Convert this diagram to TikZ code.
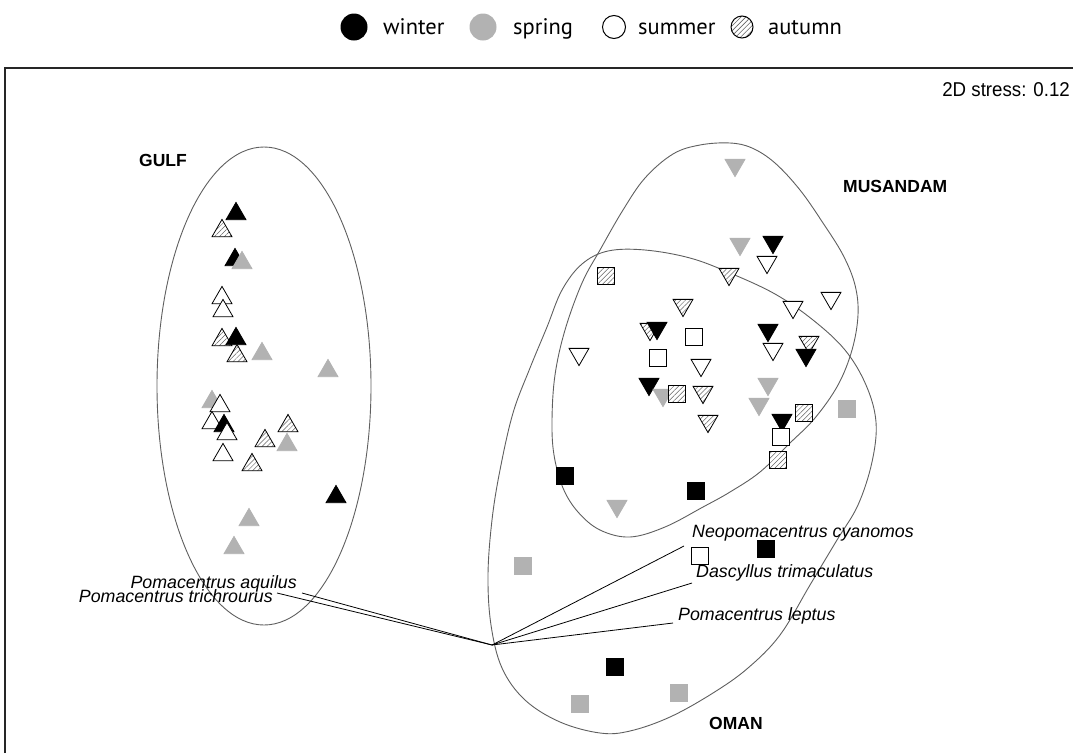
\documentclass[tikz,border=0pt]{standalone}
\usepackage{fontspec}
\setmainfont{Liberation Sans}
\newfontfamily\legfont{PT Sans}
\usetikzlibrary{shapes.geometric,patterns.meta}
\definecolor{grayc}{RGB}{178,178,178}
\definecolor{hatchc}{RGB}{100,100,100}
\definecolor{curvec}{RGB}{95,95,95}
\begin{document}
\begin{tikzpicture}[x=1pt,y=1pt,
  mk/.style={inner sep=0pt,outer sep=0pt,draw=black,line width=0.8pt},
  upT/.style={mk,regular polygon,regular polygon sides=3,minimum size=23pt,yshift=-2.9pt},
  dnT/.style={mk,regular polygon,regular polygon sides=3,shape border rotate=180,minimum size=23pt,yshift=2.9pt},
  sq/.style={mk,rectangle,minimum size=17pt},
  W/.style={fill=white},
  B/.style={fill=black},
  G/.style={fill=grayc,draw=grayc},
  H/.style={preaction={fill=white},pattern={Lines[angle=45,distance=3.5pt,line width=0.5pt]},pattern color=hatchc},
  curve/.style={draw=curvec,line width=0.9pt},
  vec/.style={draw=black,line width=0.8pt},
  sp/.style={inner sep=0pt,font=\fontsize{17.8}{20}\selectfont\itshape},
  reg/.style={inner sep=0pt,anchor=base west,font=\fontsize{17.5}{20}\selectfont\bfseries},
  leg/.style={inner sep=0pt,anchor=base west,font=\legfont\fontsize{22.5}{26}\selectfont},
  legc/.style={circle,inner sep=0pt,outer sep=0pt,line width=1pt},
]
\useasboundingbox (0,0) rectangle (1073,-753);
% frame
\draw[line width=1.3pt,draw=black!85] (5,-753) -- (5,-68) -- (1073,-68);
% legend
\node[legc,fill=black,minimum size=27pt] (lc1) at (354,-27) {};
\node[leg] (lt1) at (383,-34) {winter};
\node[legc,fill=grayc,minimum size=27pt] (lc2) at (483,-27) {};
\node[leg] (lt2) at (513,-34) {spring};
\node[legc,draw=black,fill=white,minimum size=23pt] (lc3) at (614,-27) {};
\node[leg] (lt3) at (638,-34) {summer};
\node[legc,draw=black,preaction={fill=white},pattern={Lines[angle=45,distance=3.5pt,line width=0.6pt]},pattern color=hatchc,minimum size=22pt] (lc4) at (742,-27) {};
\node[leg] (lt4) at (768,-34) {autumn};
% stress
\node[inner sep=0pt,anchor=base east,font=\fontsize{20}{22}\selectfont] (stress) at (1070,-96) {\scalebox{0.935}[1]{2D stress: 0.12}};
% region outlines
\draw[curve] (264,-386) ellipse [x radius=107pt, y radius=239pt];
\draw[curve] plot[smooth cycle,tension=0.6] coordinates {
 (730,-143) (752,-148) (775,-163) (800,-190) (823,-223) (843,-255) (855,-285) (858,-315)
 (852,-350) (838,-385) (815,-418) (790,-443) (760,-472) (730,-492) (703,-507) (665,-527)
 (630,-537) (600,-530) (578,-512) (563,-488) (554,-455) (552,-420) (555,-375) (565,-330)
 (582,-283) (600,-250) (623,-210) (645,-178) (673,-154) (700,-145)};
\draw[curve] plot[smooth cycle,tension=0.6] coordinates {
 (562,-290) (582,-264) (608,-251) (645,-250) (690,-258) (730,-273) (775,-294)
 (813,-320) (845,-350) (866,-385) (876,-422) (872,-462) (858,-505) (837,-540) (810,-585)
 (780,-635) (748,-668) (713,-693) (670,-717) (630,-731) (600,-733) (560,-722) (525,-700)
 (502,-668) (491,-625) (488,-575) (492,-520) (500,-470) (513,-413) (530,-368) (547,-327)};
% region labels
\node[reg] (gulf) at (139,-166) {GULF};
\node[reg] (musa) at (843,-192) {MUSANDAM};
\node[reg] (oman) at (709,-729) {OMAN};
% vectors
\coordinate (vo) at (492,-645);
\coordinate (v1) at (684,-546);
\coordinate (v2) at (692,-583);
\coordinate (v3) at (673,-623);
\coordinate (v4) at (302,-593);
\coordinate (v5) at (277,-593);
\draw[vec] (vo) -- (v1);
\draw[vec] (vo) -- (v2);
\draw[vec] (vo) -- (v3);
\draw[vec] (vo) -- (v4);
\draw[vec] (vo) -- (v5);
\node[sp,anchor=base west] (s1) at (692,-537) {Neopomacentrus cyanomos};
\node[sp,anchor=base west] (s2) at (696,-577) {Dascyllus trimaculatus};
\node[sp,anchor=base west] (s3) at (678,-620) {Pomacentrus leptus};
\node[sp,anchor=base east] (s4) at (297,-588) {Pomacentrus aquilus};
\node[sp,anchor=base east] (s5) at (273,-602) {Pomacentrus trichrourus};
% GULF markers
\node[upT,B] (g1) at (236,-211) {};
\node[upT,H] (g2) at (222,-228) {};
\node[upT,B] (g3) at (235,-257) {};
\node[upT,G] (g4) at (242,-260) {};
\node[upT,W] (g5) at (222,-295) {};
\node[upT,W] (g6) at (223,-308) {};
\node[upT,H] (g7) at (222,-337) {};
\node[upT,B] (g8) at (236,-336) {};
\node[upT,H] (g9) at (237,-353) {};
\node[upT,G] (g10) at (262,-351) {};
\node[upT,G] (g11) at (328,-368) {};
\node[upT,G] (g12) at (212,-399) {};
\node[upT,W] (g13) at (220,-403) {};
\node[upT,W] (g14) at (212,-420) {};
\node[upT,B] (g15) at (224,-423) {};
\node[upT,W] (g16) at (227,-431) {};
\node[upT,W] (g17) at (223,-452) {};
\node[upT,H] (g18) at (265,-438) {};
\node[upT,G] (g19) at (287,-442) {};
\node[upT,H] (g20) at (288,-423) {};
\node[upT,H] (g21) at (252,-462) {};
\node[upT,B] (g22) at (336,-494) {};
\node[upT,G] (g23) at (249,-517) {};
\node[upT,G] (g24) at (234,-545) {};
% MUSANDAM markers
\node[dnT,G] (m1) at (735,-168) {};
\node[dnT,G] (m2) at (740,-247) {};
\node[dnT,B] (m3) at (773,-245) {};
\node[dnT,W] (m4) at (767,-265) {};
\node[dnT,H] (m5) at (729,-277) {};
\node[dnT,W] (m6) at (831,-301) {};
\node[dnT,H] (m7) at (683,-308) {};
\node[dnT,W] (m8) at (793,-310) {};
\node[dnT,H] (m9) at (650,-332) {};
\node[dnT,B] (m10) at (657,-331) {};
\node[dnT,B] (m11) at (768,-333) {};
\node[dnT,W] (m12) at (773,-352) {};
\node[dnT,H] (m13) at (809,-345) {};
\node[dnT,B] (m14) at (806,-358) {};
\node[dnT,W] (m15) at (579,-357) {};
\node[dnT,W] (m16) at (701,-368) {};
\node[dnT,B] (m17) at (649,-387) {};
\node[dnT,G] (m18) at (663,-398) {};
\node[dnT,H] (m19) at (703,-395) {};
\node[dnT,G] (m20) at (768,-387) {};
\node[dnT,G] (m21) at (759,-407) {};
\node[dnT,H] (m22) at (708,-424) {};
\node[dnT,B] (m23) at (782,-423) {};
\node[dnT,G] (m24) at (617,-509) {};
% OMAN markers
\node[sq,H] (o1) at (606,-276) {};
\node[sq,W] (o2) at (694,-337) {};
\node[sq,W] (o3) at (658,-358) {};
\node[sq,H] (o4) at (677,-394) {};
\node[sq,H] (o5) at (804,-413) {};
\node[sq,G] (o6) at (847,-409) {};
\node[sq,W] (o7) at (781,-437) {};
\node[sq,H] (o8) at (778,-460) {};
\node[sq,B] (o9) at (565,-476) {};
\node[sq,B] (o10) at (696,-491) {};
\node[sq,W] (o11) at (700,-556) {};
\node[sq,B] (o12) at (766,-549) {};
\node[sq,G] (o13) at (523,-566) {};
\node[sq,B] (o14) at (615,-667) {};
\node[sq,G] (o15) at (679,-693) {};
\node[sq,G] (o16) at (580,-704) {};
\end{tikzpicture}
\end{document}
